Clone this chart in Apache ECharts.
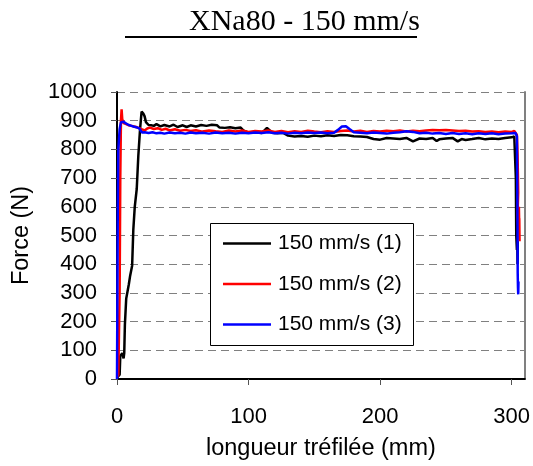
<!DOCTYPE html>
<html>
<head>
<meta charset="utf-8">
<script src="https://cdn.jsdelivr.net/npm/echarts@6/dist/echarts.min.js"></script>
<style>html,body{margin:0;padding:0;background:#fff;}#c{width:533px;height:466px;}</style>
</head>
<body>
<div id="c"></div>
<script>
const titleText = 'XNa80 - 150 mm/s';
const xName = 'longueur tréfilée (mm)';
const yName = 'Force (N)';
const seriesNames = ['150 mm/s (1)', '150 mm/s (2)', '150 mm/s (3)'];
const xTicks = [0, 100, 200, 300];

const x1 = [0,2,2.5,4,5,5.5,6,7,8,9,10,11.5,12.4,13.5,15,16.2,17.5,18.7,20,21,22,24,26,28,30,33,36,40,43,46,50,53,56,60,64,68,72,76,78,82,86,90,94,96,100,105,110,114,118,122,126,130,135,140,145,150,155,160,165,170,175,180,185,190,195,200,205,210,215,220,225,230,235,240,243,245,250,255,259,262,265,270,275,280,285,290,295,300,302,303,303.2,303.5,304,304.3,304.5,304.6];
const y1 = [5,15,80,90,72,90,190,280,305,330,360,395,520,600,662,777,869,932,925,915,895,885,884,882,888,880,885,880,886,878,884,878,884,880,885,882,886,884,876,875,877,874,876,866,858,860,857,875,858,856,858,848,845,847,844,848,846,849,847,850,849,846,845,843,836,834,840,838,836,840,828,838,836,840,829,835,838,840,828,836,833,836,840,835,838,836,840,842,845,842,700,500,450,480,400,480];

const x2 = [0,1,2,2.5,3,3.5,4,5,7,9,11,13,15,17,19,21,23,25,28,31,34,37,40,44,48,52,56,60,65,70,75,80,85,90,95,100,105,110,115,120,125,130,135,140,145,150,155,160,165,170,175,180,185,190,195,200,205,210,215,220,225,230,235,240,245,250,255,260,265,270,275,280,285,290,295,300,302,303.5,304,304.5,305,304.5,305.2,305.5,306,305.8];
const y2 = [8,15,300,700,900,940,905,892,888,884,882,880,877,874,870,866,873,876,871,874,868,872,866,870,865,868,864,867,862,866,863,861,866,862,866,861,864,862,866,861,864,860,863,861,865,862,860,863,861,864,866,862,865,861,864,862,865,863,866,862,865,863,866,868,867,868,866,864,865,862,863,861,862,860,862,861,864,860,850,780,650,570,520,600,480,560];

const x3 = [0,0.3,0.6,1,2,3,4,5,7,9,11,13,15,17,18,19,21,24,27,30,33,36,40,44,48,52,56,60,65,70,75,80,85,90,95,100,105,110,115,120,125,130,135,140,145,150,155,160,165,168,171,174,177,180,185,190,195,200,205,210,215,220,225,230,235,240,245,250,255,260,265,270,275,280,285,290,295,300,303,304,304.3,304.5,304.6,304.8,305,305.2,305];
const y3 = [0,300,600,800,870,895,901,896,890,885,882,879,877,873,866,859,860,857,860,856,858,855,859,856,858,855,859,856,858,855,859,856,858,855,858,856,859,857,860,856,858,855,858,856,859,857,859,856,858,868,880,881,870,860,858,856,859,857,855,858,860,863,861,856,858,855,857,854,857,854,856,853,856,854,856,853,855,856,857,845,650,480,370,320,295,340,310];

function pairs(xs, ys) { return xs.map((x, i) => [x, ys[i]]); }

const chart = echarts.init(document.getElementById('c'), null, {renderer: 'canvas'});
const sans = 'Liberation Sans, Arial, sans-serif';
const lineIcon = 'path://M0,0 L48,0 L48,2.5 L0,2.5 Z';
chart.setOption({
  animation: false,
  backgroundColor: '#fff',
  grid: {left: 117, top: 92, right: 8, bottom: 84, containLabel: false},
  xAxis: {
    type: 'value', min: 0, max: 310,
    name: xName, nameLocation: 'middle', nameGap: 58,
    nameTextStyle: {fontSize: 23.5, color: '#000', fontFamily: sans},
    axisLine: {onZero: false, lineStyle: {color: '#000', width: 2}},
    axisTick: {show: true, length: 6, customValues: xTicks, lineStyle: {color: '#555', width: 1}},
    axisLabel: {customValues: xTicks, fontSize: 22, color: '#000', fontFamily: sans, margin: 27},
    splitLine: {show: false}
  },
  yAxis: [{
    type: 'value', min: 0, max: 1000, interval: 100,
    name: yName, nameLocation: 'middle', nameGap: 83,
    nameTextStyle: {fontSize: 23.5, color: '#000', fontFamily: sans},
    axisLine: {show: true, lineStyle: {color: '#000', width: 2}},
    axisTick: {show: true, length: 6, lineStyle: {color: '#555', width: 1}},
    axisLabel: {fontSize: 22, color: '#000', fontFamily: sans, margin: 20, formatter: v => String(v)},
    splitLine: {show: true, lineStyle: {color: '#808080', type: [8, 5], width: 1}}
  }, {
    type: 'value', min: 0, max: 1000, position: 'right',
    axisLine: {show: true, lineStyle: {color: '#808080', width: 2}},
    axisTick: {show: false}, axisLabel: {show: false}, splitLine: {show: false}
  }],
  legend: {
    orient: 'vertical', left: 218, top: 228, z: 20, padding: 5,
    itemWidth: 48, itemHeight: 21, itemGap: 19.5,
    data: seriesNames.map(n => ({name: n, icon: lineIcon})),
    textStyle: {fontSize: 21, color: '#000', fontFamily: sans, padding: [0, 0, 0, 2]}
  },
  graphic: [
    {type: 'rect', z: 10, shape: {x: 210.5, y: 223.5, width: 203, height: 122}, style: {fill: '#fff', stroke: '#000', lineWidth: 1}},
    {type: 'text', z: 10, x: 189, y: 22.6, style: {text: titleText, font: '30px "Liberation Serif", "Times New Roman", serif', fill: '#000', verticalAlign: 'middle', align: 'left'}},
    {type: 'line', z: 10, shape: {x1: 125, y1: 37, x2: 417, y2: 37}, style: {stroke: '#000', lineWidth: 2}}
  ],
  series: [
    {name: seriesNames[0], type: 'line', data: pairs(x1, y1), symbol: 'none', lineStyle: {color: '#000', width: 2.5}, itemStyle: {color: '#000'}},
    {name: seriesNames[1], type: 'line', data: pairs(x2, y2), symbol: 'none', lineStyle: {color: '#ff0000', width: 2.5}, itemStyle: {color: '#ff0000'}},
    {name: seriesNames[2], type: 'line', data: pairs(x3, y3), symbol: 'none', lineStyle: {color: '#0000ff', width: 2.5}, itemStyle: {color: '#0000ff'}}
  ]
});
</script>
</body>
</html>
